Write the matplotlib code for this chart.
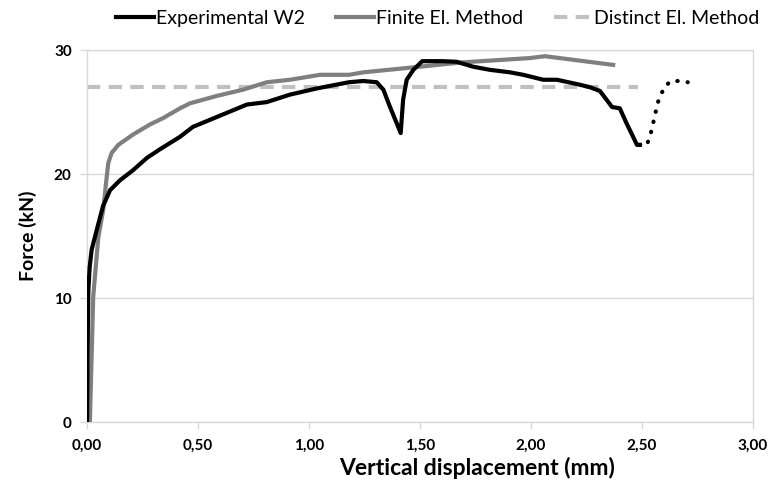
import matplotlib
matplotlib.use("Agg")
import matplotlib.pyplot as plt
from matplotlib.ticker import FuncFormatter

plt.rcParams['font.family'] = ['Lato', 'DejaVu Sans']

# Experimental W2 (solid part)
exp_x = [0.0, 0.003, 0.006, 0.012, 0.021, 0.044, 0.072, 0.104, 0.149, 0.207, 0.27, 0.329,
         0.419, 0.477, 0.585, 0.72, 0.81, 0.914, 1.035, 1.18, 1.245, 1.305, 1.335, 1.365,
         1.395, 1.413, 1.424, 1.44, 1.47, 1.51, 1.6, 1.665, 1.74, 1.815, 1.905, 1.965,
         2.055, 2.117, 2.22, 2.265, 2.31, 2.34, 2.365, 2.4, 2.43, 2.46, 2.477, 2.49]
exp_y = [0.0, 6.0, 10.6, 12.5, 13.9, 15.5, 17.4, 18.7, 19.5, 20.3, 21.3, 22.0,
         23.0, 23.8, 24.6, 25.6, 25.8, 26.4, 26.9, 27.4, 27.5, 27.4, 26.8, 25.4,
         24.1, 23.3, 26.0, 27.6, 28.4, 29.1, 29.1, 29.05, 28.65, 28.4, 28.2, 28.0,
         27.6, 27.6, 27.2, 27.0, 26.7, 26.0, 25.4, 25.3, 24.1, 23.0, 22.35, 22.35]

# Experimental W2 (dotted continuation)
dot_x = [2.49, 2.52, 2.536, 2.545, 2.554, 2.563, 2.572, 2.586, 2.6, 2.63, 2.67, 2.706]
dot_y = [22.35, 22.3, 23.0, 23.7, 24.4, 25.1, 25.8, 26.4, 27.0, 27.5, 27.5, 27.4]

# Finite El. Method
fem_x = [0.013, 0.028, 0.051, 0.073, 0.089, 0.096, 0.111, 0.141, 0.209, 0.284, 0.342,
         0.419, 0.464, 0.585, 0.703, 0.81, 0.914, 1.05, 1.18, 1.245, 1.47, 1.69, 1.995,
         2.063, 2.37]
fem_y = [0.0, 10.1, 14.9, 17.1, 19.8, 20.9, 21.7, 22.35, 23.2, 24.0, 24.5,
         25.3, 25.7, 26.3, 26.8, 27.4, 27.6, 28.0, 28.0, 28.2, 28.6, 29.0, 29.35,
         29.5, 28.8]

# Distinct El. Method
dem_x = [0.0, 2.48]
dem_y = [27.0, 27.0]

x_ticks = [0, 0.5, 1.0, 1.5, 2.0, 2.5, 3.0]
y_ticks = [0, 10, 20, 30]

fig = plt.figure(figsize=(7.72, 4.83), dpi=100)
ax = fig.add_axes([87/772, 1-422/483, (753-87)/772, (422-50)/483])

ax.plot(dem_x, dem_y, color='#c0c0c0', lw=3.0, dashes=(3.2, 2.0), label='Distinct El. Method', zorder=2)
ax.plot(fem_x, fem_y, color='#7f7f7f', lw=3.0, label='Finite El. Method', zorder=3,
        solid_joinstyle='round')
ax.plot(exp_x, exp_y, color='black', lw=3.0, label='Experimental W2', zorder=4,
        solid_joinstyle='round')
ax.plot(dot_x, dot_y, color='black', lw=3.0, linestyle=(0, (0.1, 2.4)),
        dash_capstyle='round', zorder=4)

ax.set_xlim(0, 3.0)
ax.set_ylim(0, 30)
ax.set_xticks(x_ticks)
ax.set_yticks(y_ticks)
ax.xaxis.set_major_formatter(FuncFormatter(lambda v, p: f"{v:.2f}".replace('.', ',')))
ax.yaxis.set_major_formatter(FuncFormatter(lambda v, p: f"{int(v)}"))
ax.grid(axis='y', color='#d9d9d9', lw=1.0)
ax.set_axisbelow(True)
for s in ax.spines.values():
    s.set_color('#d9d9d9')
    s.set_linewidth(1.0)
ax.tick_params(axis='both', colors='#d9d9d9', labelcolor='black', length=5, width=1.0,
               labelsize=11)
ax.tick_params(axis='x', pad=7)
ax.tick_params(axis='y', pad=6)
for lab in ax.get_xticklabels() + ax.get_yticklabels():
    lab.set_fontweight('bold')
ax.set_xlabel('Vertical displacement (mm)', fontsize=16.5, fontweight='bold', labelpad=0)
ax.xaxis.set_label_coords((477-87)/(753-87), -(457-422)/372)
ax.set_ylabel('Force (kN)', fontsize=14, fontweight='bold', labelpad=12)

h, l = ax.get_legend_handles_labels()
order = [2, 1, 0]
fig.legend([h[i] for i in order], [l[i] for i in order], loc='upper center',
           bbox_to_anchor=(438/772, 1.015), ncol=3, frameon=False, fontsize=14,
           handlelength=1.95, handletextpad=0.1, columnspacing=1.6)

fig.savefig('out.png', dpi=100)
